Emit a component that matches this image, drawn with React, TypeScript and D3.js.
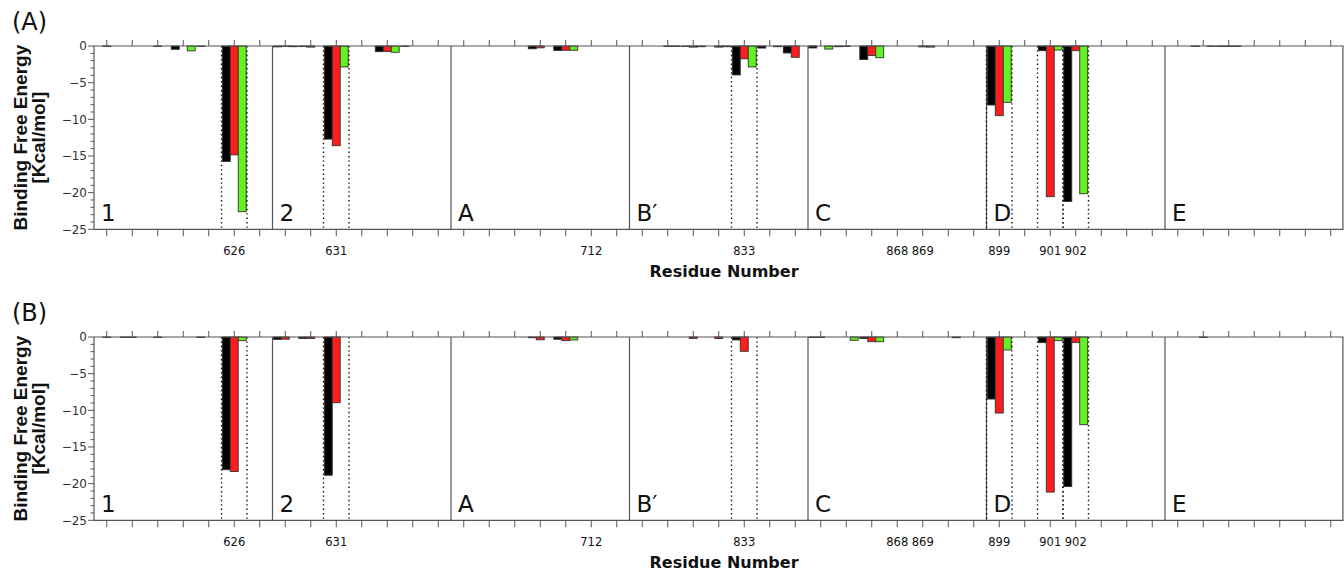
import React from "react";
import * as d3 from "d3";

// ---------- data ----------
const sectionNames = ["1", "2", "A", "B\u2032", "C", "D", "E"];
const residuesPerSection = 7;
const slotIndex = d3.range(sectionNames.length * residuesPerSection);

const labeledSlots = [5, 9, 19, 25, 31, 32, 35, 37, 38];
const labeledResidues = ["626", "631", "712", "833", "868", "869", "899", "901", "902"];
const highlightSlots = [5, 9, 25, 35, 37, 38];

const yTicks = [0, -5, -10, -15, -20, -25];
const yMinorTicks = d3.range(0, -26, -1);

const seriesKeys = ["black", "red", "green"];
const seriesColors = ["#000000", "#ff1c1c", "#63f21e"];

// Panel (A)
const panelA_black = [
  0, 0, 0, -0.45, -0.06, -15.75, 0,
  -0.12, -0.08, -12.7, 0, -0.77, -0.06, 0,
  0, 0, 0, -0.38, -0.62, 0, 0,
  0, 0, -0.05, 0, -3.95, -0.28, -0.95,
  -0.27, -0.1, -1.85, 0, 0, 0, 0,
  -8.05, 0, -0.64, -21.2, 0, 0, 0,
  0, -0.06, -0.06, 0, 0, 0, 0,
];
const panelA_red = [
  -0.06, 0, -0.06, 0, 0, -14.85, 0,
  -0.05, -0.15, -13.6, 0, -0.75, 0, 0,
  0, 0, 0, -0.25, -0.58, 0, 0,
  0, -0.06, -0.15, -0.15, -1.75, 0, -1.54,
  0, -0.06, -1.3, 0, -0.12, 0, 0,
  -9.5, 0, -20.55, -0.64, 0, 0, 0,
  0, 0, -0.06, 0, 0, 0, 0,
];
const panelA_green = [
  0, 0, 0, -0.66, 0, -22.6, 0,
  -0.1, 0, -2.86, 0, -0.86, 0, 0,
  0, 0, 0, 0, -0.58, 0, 0,
  0, -0.06, -0.1, -0.1, -2.86, -0.1, 0,
  -0.42, 0, -1.6, 0, -0.15, 0, 0,
  -7.68, 0, -0.55, -20.15, 0, 0, 0,
  0, -0.06, -0.06, 0, 0, 0, 0,
];

// Panel (B)
const panelB_black = [
  0, -0.06, 0, 0, -0.06, -18.1, 0,
  -0.32, -0.2, -18.85, 0, 0, 0, 0,
  0, 0, 0, -0.1, -0.3, 0, 0,
  0, 0, 0, 0, -0.4, 0, 0,
  -0.06, 0, -0.2, 0, 0, 0, 0,
  -8.46, 0, -0.77, -20.4, 0, 0, 0,
  0, 0, 0, 0, 0, 0, 0,
];
const panelB_red = [
  -0.06, -0.06, -0.06, 0, 0, -18.35, 0,
  -0.3, -0.2, -8.96, 0, 0, 0, 0,
  0, 0, 0, -0.38, -0.5, 0, 0,
  0, 0, -0.2, -0.2, -1.95, 0, 0,
  -0.06, 0, -0.64, 0, 0, 0, 0,
  -10.37, 0, -21.15, -0.77, 0, 0, 0,
  0, -0.06, 0, 0, 0, 0, 0,
];
const panelB_green = [
  0, 0, 0, 0, 0, -0.5, 0,
  0, 0, 0, 0, 0, 0, 0,
  0, 0, 0, 0, -0.4, 0, 0,
  0, 0, 0, 0, 0, 0, 0,
  0, -0.45, -0.64, 0, 0, -0.1, 0,
  -1.77, 0, -0.5, -11.96, 0, 0, 0,
  0, 0, 0, 0, 0, 0, 0,
];

// ---------- layout ----------
const W = 1344;
const H = 571;
const plotLeft = 94;
const plotRight = 1343.5;
const axisColor = "#555";

const x = d3.scaleBand<number>().domain(slotIndex).range([plotLeft, plotRight]).padding(0);
const inner = d3
  .scaleBand<string>()
  .domain(seriesKeys)
  .range([0, x.bandwidth()])
  .paddingInner(0)
  .paddingOuter(0.1);

type PanelProps = {
  tag: string;
  top: number;
  bottom: number;
  series: number[][];
};

function Panel({ tag, top, bottom, series }: PanelProps) {
  const y = d3.scaleLinear().domain([0, -25]).range([top, bottom]);
  const sectionStarts = sectionNames.map((_, i) => i * residuesPerSection);
  const midY = (top + bottom) / 2;
  return (
    <g>
      {/* panel tag */}
      <text x={12} y={top - 16} fontFamily="DejaVu Sans" fontSize={24} fill="#111">
        {tag}
      </text>
      {/* y label */}
      <g fontFamily="Liberation Sans" fontWeight="bold" fontSize={19} fill="#111" textAnchor="middle">
        <text transform={`translate(27,${midY}) rotate(-90)`}>Binding Free Energy</text>
        <text transform={`translate(45,${midY}) rotate(-90)`}>[Kcal/mol]</text>
      </g>
      {/* y ticks */}
      {yMinorTicks.map((t) => (
        <line
          key={"m" + t}
          x1={plotLeft - (t % 5 === 0 ? 6 : 3.5)}
          x2={plotLeft}
          y1={y(t)}
          y2={y(t)}
          stroke={axisColor}
          strokeWidth={1}
        />
      ))}
      {yTicks.map((t) => (
        <text
          key={"yt" + t}
          x={plotLeft - 7}
          y={y(t)}
          dy="0.35em"
          textAnchor="end"
          fontFamily="DejaVu Sans"
          fontSize={12}
          fill="#333"
        >
          {t === 0 ? "0" : "\u2212" + Math.abs(t)}
        </text>
      ))}
      {/* x ticks top and bottom */}
      {slotIndex.map((i) => {
        const cx = (x(i) as number) + x.bandwidth() / 2;
        return (
          <g key={"xt" + i} stroke={axisColor} strokeWidth={1}>
            <line x1={cx} x2={cx} y1={top} y2={top - 6} />
            <line x1={cx} x2={cx} y1={bottom} y2={bottom + 7} />
          </g>
        );
      })}
      {labeledSlots.map((s, k) => (
        <text
          key={"xl" + s}
          x={(x(s) as number) + x.bandwidth() / 2}
          y={bottom + 26}
          textAnchor="middle"
          fontFamily="DejaVu Sans"
          fontSize={11.5}
          fill="#111"
        >
          {labeledResidues[k]}
        </text>
      ))}
      <text
        x={724}
        y={top + 231}
        textAnchor="middle"
        fontFamily="DejaVu Sans"
        fontWeight="bold"
        fontSize={16}
        fill="#111"
      >
        Residue Number
      </text>
      {/* bars */}
      {series.map((vals, si) =>
        vals.map((v, i) =>
          v === 0 ? null : (
            <rect
              key={`b${si}-${i}`}
              x={(x(i) as number) + (inner(seriesKeys[si]) as number)}
              width={inner.bandwidth()}
              y={y(0)}
              height={Math.max(0.3, y(v) - y(0))}
              fill={seriesColors[si]}
              stroke="#333"
              strokeWidth={0.9}
            />
          )
        )
      )}
      {/* section separators */}
      {sectionStarts.slice(1).map((s) => (
        <line
          key={"sep" + s}
          x1={x(s) as number}
          x2={x(s) as number}
          y1={top}
          y2={bottom}
          stroke={axisColor}
          strokeWidth={1.2}
        />
      ))}
      {/* highlighted residue boundaries */}
      {highlightSlots.map((s) => (
        <g key={"hl" + s} stroke="#111" strokeWidth={1.4} strokeDasharray="1.4,3">
          <line x1={x(s) as number} x2={x(s) as number} y1={top} y2={bottom} />
          <line
            x1={(x(s) as number) + x.bandwidth()}
            x2={(x(s) as number) + x.bandwidth()}
            y1={top}
            y2={bottom}
          />
        </g>
      ))}
      {/* frame */}
      <g stroke={axisColor} strokeWidth={1.2}>
        <line x1={plotLeft} x2={plotRight} y1={top} y2={top} />
        <line x1={plotLeft} x2={plotRight} y1={bottom} y2={bottom} />
        <line x1={plotLeft} x2={plotLeft} y1={top} y2={bottom} />
        <line x1={plotRight - 0.6} x2={plotRight - 0.6} y1={top} y2={bottom} />
      </g>
      {/* section labels */}
      {sectionStarts.map((s, k) => (
        <text
          key={"sl" + s}
          x={(x(s) as number) + 7}
          y={top + 175}
          fontFamily="DejaVu Sans"
          fontSize={23}
          fill="#111"
        >
          {sectionNames[k]}
        </text>
      ))}
    </g>
  );
}

export default function App() {
  return (
    <svg
      width={W}
      height={H}
      viewBox={`0 0 ${W} ${H}`}
      style={{ position: "absolute", left: 0, top: 0, background: "#fff" }}
    >
      <rect x={0} y={0} width={W} height={H} fill="#fff" />
      <Panel tag="(A)" top={46} bottom={229.3} series={[panelA_black, panelA_red, panelA_green]} />
      <Panel tag="(B)" top={337} bottom={520.3} series={[panelB_black, panelB_red, panelB_green]} />
    </svg>
  );
}
